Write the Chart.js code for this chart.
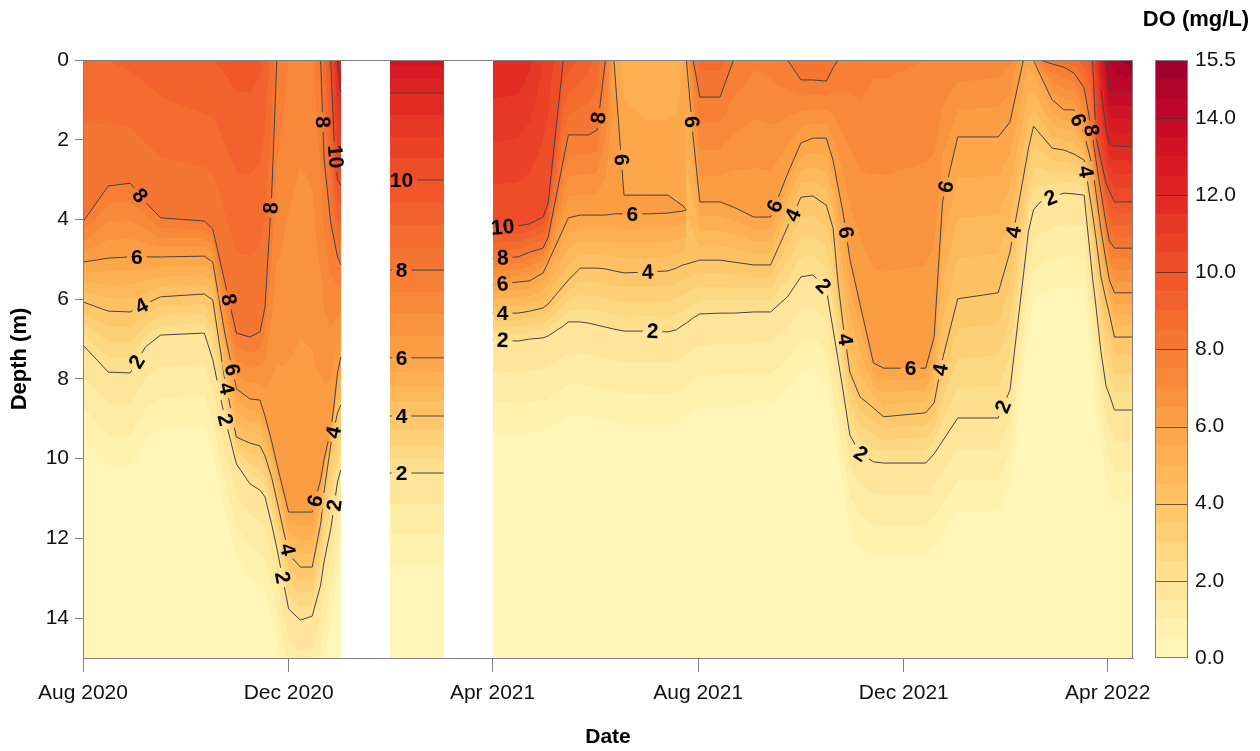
<!DOCTYPE html>
<html>
<head>
    <title>Dissolved oxygen profile</title>
    <script src="https://cdn.jsdelivr.net/npm/chart.js"></script>
    <style>
        body { margin: 0; background: #fff; }
        #wrap { position: relative; width: 1260px; height: 751px; }
        #colorbar { position: absolute; left: 1140px; top: 0; }
    </style>
</head>
<body>
    <div id="wrap">
        <canvas id="contour" width="1260" height="751"></canvas>
        <canvas id="colorbar" width="120" height="751"></canvas>
    </div>

    <script>
        const NA = null;

        // Profile dates. Rows: Aug 2020 - Jan 2021 | no data | Feb 2021 profile | no data | Apr 2021 - Apr 2022
        const sampleDates = [
            '2020-08-01','2020-08-16','2020-08-29','2020-09-07','2020-09-16','2020-10-12','2020-10-17','2020-10-24','2020-10-31','2020-11-08',
            '2020-11-14','2020-11-17','2020-11-21','2020-11-24','2020-12-01','2020-12-08','2020-12-15','2020-12-20','2020-12-22','2020-12-26',
            '2020-12-28','2020-12-30','2021-01-01',
            '2021-01-15', '2021-01-30','2021-03-03', '2021-03-17',
            '2021-04-01','2021-04-16','2021-04-23','2021-05-01','2021-05-04','2021-05-13','2021-05-16','2021-05-23','2021-05-28','2021-06-02',
            '2021-06-07','2021-06-12','2021-06-18','2021-07-02','2021-07-14','2021-07-19','2021-07-23','2021-07-25','2021-07-29','2021-08-02',
            '2021-08-14','2021-08-22','2021-09-03','2021-09-13','2021-09-23','2021-10-01','2021-10-08','2021-10-16','2021-10-20','2021-10-23',
            '2021-10-26','2021-10-30','2021-11-05','2021-11-13','2021-11-19','2021-12-14','2021-12-19','2021-12-24','2022-01-02','2022-01-26',
            '2022-02-02','2022-02-10','2022-02-13','2022-02-16','2022-02-20','2022-02-27','2022-03-06','2022-03-12','2022-03-18','2022-03-23',
            '2022-03-25','2022-03-28','2022-03-31','2022-04-02','2022-04-05','2022-04-16'
        ];

        // DO at the surface (mg/L)
        const surfaceDO = [
            8.8, 9.0, 9.1, 9.2, 9.3, 9.5, 9.5, 9.6, 9.7, 9.7, 9.6, 9.4, 8.8, 8.0, 7.5, 7.3, 7.4, 8.0, 8.8, 10.0, 11.0, 12.0, 12.3,
            NA, 13.2, 13.2, NA,
            11.95, 11.9, 11.6, 11.0, 10.8, 10.0, 9.8, 9.4, 9.2, 8.8, 8.0, 6.0, 5.3, 5.1, 5.1, 5.2, 5.5, 6.0, 8.0, 8.7,
            8.7, 8.0, 7.6, 7.7, 8.0, 8.4, 8.5, 8.4, 8.2, 8.0, 7.9, 7.8, 7.8, 7.6, 7.6, 7.5, 7.5, 7.5, 7.4, 7.3,
            7.1, 6.0, 5.6, 6.0, 8.0, 8.5, 8.7, 8.9, 9.3, 10.0, 11.0, 12.7, 14.0, 14.5, 14.8, 15.3
        ];
        const BOTTOM_DO = 0.4;

        // Depth (m) where DO crosses each isoline on each profile
        const iso2 = [
            7.15, 7.83, 7.85, 7.20, 6.90, 6.85, 7.52, 8.95, 10.13, 10.63, 10.79, 10.96, 11.66, 12.24, 13.77, 14.05, 13.95, 13.17, 12.59, 11.76, 11.19, 10.58, 10.28,
            NA, 10.36, 10.36, NA,
            7.02, 7.05, 7.00, 6.97, 6.92, 6.67, 6.57, 6.57, 6.60, 6.65, 6.70, 6.75, 6.80, 6.80, 6.82, 6.77, 6.65, 6.60, 6.47, 6.37,
            6.35, 6.35, 6.32, 6.32, 5.94, 5.44, 5.39, 5.74, 6.75, 7.52, 8.30, 9.41, 9.86, 10.08, 10.11, 10.11, 9.88, 9.56, 8.98, 8.98,
            8.28, 5.39, 4.29, 3.76, 3.56, 3.44, 3.34, 3.36, 3.39, 5.47, 6.17, 7.32, 8.18, 8.40, 8.78, 8.78
        ];
        const iso4 = [
            6.07, 6.30, 6.32, 6.12, 5.94, 5.87, 6.02, 7.98, 9.46, 9.61, 9.68, 9.93, 10.48, 11.04, 12.39, 12.72, 12.72, 11.64, 10.84, 9.66, 9.26, 8.85, 8.65,
            NA, 8.93, 8.93, NA,
            6.35, 6.35, 6.30, 6.22, 6.12, 5.67, 5.52, 5.22, 5.22, 5.22, 5.24, 5.29, 5.34, 5.32, 5.29, 5.22, 5.14, 5.12, 5.07, 5.02,
            5.02, 5.07, 5.14, 5.14, 4.19, 3.44, 3.41, 3.64, 4.21, 5.59, 6.65, 7.83, 8.45, 8.73, 8.95, 8.85, 8.60, 7.50, 5.99, 5.84,
            4.82, 2.93, 2.21, 1.66, 1.86, 2.21, 2.26, 2.36, 2.51, 3.86, 4.46, 5.44, 6.02, 6.37, 6.95, 6.95
        ];
        const iso6 = [
            5.07, 4.97, 4.94, 4.94, 4.94, 4.92, 5.07, 6.82, 8.25, 8.50, 8.53, 8.93, 9.58, 10.13, 11.34, 11.34, 11.34, 10.53, 10.03, 9.28, 8.65, 7.85, 7.45,
            NA, 7.47, 7.47, NA,
            5.64, 5.57, 5.54, 5.34, 5.07, 4.24, 3.96, 3.89, 3.89, 3.89, 3.89, 3.86, 3.86, 3.86, 3.84, 3.81, 3.79, 3.76, NA, NA,
            NA, NA, NA, NA, NA, NA, NA, NA, NA, NA, NA, NA, NA, NA, NA, NA, NA, NA, NA, NA,
            NA, NA, NA, NA, NA, NA, NA, NA, NA, NA, NA, NA, NA, NA, NA, NA
        ];
        // upper edge of the thin > 6 mg/L tongue in June-July 2021
        const iso6Tongue = [
            NA, NA, NA, NA, NA, NA, NA, NA, NA, NA, NA, NA, NA, NA, NA, NA, NA, NA, NA, NA, NA, NA, NA,
            NA, NA, NA, NA,
            NA, NA, NA, NA, NA, NA, NA, NA, NA, NA, NA, 0, 3.39, 3.39, 3.39, 3.54, 3.66, 3.76, NA, NA,
            NA, NA, NA, NA, NA, NA, NA, NA, NA, NA, NA, NA, NA, NA, NA, NA, NA, NA, NA, NA,
            NA, NA, NA, NA, NA, NA, NA, NA, NA, NA, NA, NA, NA, NA, NA, NA
        ];
        const iso6Right = [
            NA, NA, NA, NA, NA, NA, NA, NA, NA, NA, NA, NA, NA, NA, NA, NA, NA, NA, NA, NA, NA, NA, NA,
            NA, NA, NA, NA,
            NA, NA, NA, NA, NA, NA, NA, NA, NA, NA, NA, NA, NA, NA, NA, NA, NA, 0, 1.93, 3.56,
            3.56, 3.69, 3.94, 3.94, 2.86, 2.08, 1.96, 1.96, 2.51, 3.19, 3.84, 4.99, 6.12, 7.60, 7.73, 7.73, 6.95, 3.56, 1.93, 1.93,
            1.56, 0, NA, 0, 0.38, 1.00, 1.25, 1.25, 1.86, 2.68, 3.31, 4.26, 5.04, 5.52, 5.84, 5.84
        ];
        const iso8 = [
            4.06, 3.16, 3.09, 3.56, 3.96, 4.04, 4.24, 5.54, 6.85, 6.95, 6.82, 6.20, 3.34, 0, NA, NA, NA, 0, 2.46, 4.09, 4.51, 4.94, 5.14,
            NA, 5.27, 5.27, NA,
            4.97, 4.94, 4.82, 4.72, 4.44, 2.51, 1.88, 1.88, 1.88, 1.76, 0, NA, NA, NA, NA, NA, NA, NA, 0, 0.93,
            0.93, 0, NA, NA, 0, 0.50, 0.50, 0.53, 0.20, 0, NA, NA, NA, NA, NA, NA, NA, NA, NA, NA,
            NA, NA, NA, NA, 0, 0.10, 0.18, 0.33, 0.70, 1.91, 2.51, 3.31, 4.11, 4.54, 4.72, 4.72
        ];
        const iso10 = [
            NA, NA, NA, NA, NA, NA, NA, NA, NA, NA, NA, NA, NA, NA, NA, NA, NA, NA, NA, 0, 2.01, 3.01, 3.14,
            NA, 3.01, 3.01, NA,
            4.21, 4.16, 4.11, 3.94, 3.59, 0, NA, NA, NA, NA, NA, NA, NA, NA, NA, NA, NA, NA, NA, NA,
            NA, NA, NA, NA, NA, NA, NA, NA, NA, NA, NA, NA, NA, NA, NA, NA, NA, NA, NA, NA,
            NA, NA, NA, NA, NA, NA, NA, NA, NA, 0, 1.93, 2.51, 3.09, 3.29, 3.56, 3.56
        ];
        const iso12 = [
            NA, NA, NA, NA, NA, NA, NA, NA, NA, NA, NA, NA, NA, NA, NA, NA, NA, NA, NA, NA, NA, 0, 0.80,
            NA, 0.83, 0.83, NA,
            NA, NA, NA, NA, NA, NA, NA, NA, NA, NA, NA, NA, NA, NA, NA, NA, NA, NA, NA, NA,
            NA, NA, NA, NA, NA, NA, NA, NA, NA, NA, NA, NA, NA, NA, NA, NA, NA, NA, NA, NA,
            NA, NA, NA, NA, NA, NA, NA, NA, NA, NA, NA, 0.75, 1.71, 2.13, 2.16, 2.18
        ];
        const iso14 = [
            NA, NA, NA, NA, NA, NA, NA, NA, NA, NA, NA, NA, NA, NA, NA, NA, NA, NA, NA, NA, NA, NA, NA,
            NA, NA, NA, NA,
            NA, NA, NA, NA, NA, NA, NA, NA, NA, NA, NA, NA, NA, NA, NA, NA, NA, NA, NA, NA,
            NA, NA, NA, NA, NA, NA, NA, NA, NA, NA, NA, NA, NA, NA, NA, NA, NA, NA, NA, NA,
            NA, NA, NA, NA, NA, NA, NA, NA, NA, NA, NA, NA, 0, 0.80, 0.80, 0.80
        ];

        // Inline contour labels: isoline, date, depth
        const contourLabels = [
            ['iso8', '2020-09-02', 3.46], ['iso6', '2020-09-02', 4.97], ['iso4', '2020-09-05', 6.2], ['iso2', '2020-09-02', 7.57],
            ['iso8', '2020-10-26', 6.02], ['iso6', '2020-10-28', 7.78], ['iso4', '2020-10-27', 8.23], ['iso2', '2020-10-24', 9.03],
            ['iso8', '2020-11-20', 3.71], ['iso8', '2020-12-20', 1.56], ['iso10', '2020-12-27', 2.43], ['iso4', '2020-12-30', 9.36],
            ['iso6', '2020-12-15', 11.04], ['iso2', '2020-12-27', 11.16], ['iso4', '2020-11-29', 12.29], ['iso2', '2020-11-26', 12.99],
            ['iso10', '2021-02-06', 3.01], ['iso8', '2021-02-06', 5.27], ['iso6', '2021-02-06', 7.47], ['iso4', '2021-02-06', 8.93], ['iso2', '2021-02-06', 10.36],
            ['iso10', '2021-04-07', 4.21], ['iso8', '2021-04-07', 4.97], ['iso6', '2021-04-07', 5.64], ['iso4', '2021-04-07', 6.35], ['iso2', '2021-04-07', 7.07],
            ['iso8', '2021-06-03', 1.45], ['iso6Tongue', '2021-06-14', 2.51], ['iso6', '2021-06-23', 3.89], ['iso4', '2021-07-02', 5.32], ['iso2', '2021-07-05', 6.80],
            ['iso6Right', '2021-07-26', 1.56], ['iso6Right', '2021-09-17', 3.69], ['iso4', '2021-09-26', 3.89], ['iso2', '2021-10-13', 5.72],
            ['iso6Right', '2021-10-26', 4.34], ['iso4', '2021-10-26', 7.02], ['iso2', '2021-11-05', 9.91], ['iso6Right', '2021-12-05', 7.73],
            ['iso4', '2021-12-24', 7.78], ['iso6Right', '2021-12-27', 3.19], ['iso2', '2022-01-29', 8.70], ['iso4', '2022-02-03', 4.31],
            ['iso2', '2022-02-26', 3.44], ['iso6Right', '2022-03-15', 1.50], ['iso8', '2022-03-23', 1.76], ['iso4', '2022-03-18', 2.81]
        ];

        const tickDates = ['2020-08-01', '2020-12-01', '2021-04-01', '2021-08-01', '2021-12-01', '2022-04-01'];
        const tickLabels = ['Aug 2020', 'Dec 2020', 'Apr 2021', 'Aug 2021', 'Dec 2021', 'Apr 2022'];
        const depthTicks = [0, 2, 4, 6, 8, 10, 12, 14];
        const colorbarTicks = [0, 2, 4, 6, 8, 10, 12, 14, 15.5];
        const colorbarLines = [2, 4, 6, 8, 10, 12, 14];

        const DEPTH_MAX = 15;
        const DO_MAX = 15.5;
        const DO_STEP = 0.5;
        const DECAY_DEPTH = 2.5;   // shading falls to the bottom value below the deepest isoline

        const ORIGIN = Date.UTC(2020, 7, 1);
        function dayOf(s) {
            const [y, m, d] = s.split('-').map(Number);
            return (Date.UTC(y, m - 1, d) - ORIGIN) / 86400000;
        }
        const sampleDays = sampleDates.map(dayOf);
        const tickDays = tickDates.map(dayOf);
        const X_MAX = dayOf('2022-04-16');

        const isolines = [
            { name: 'iso2', level: 2, depths: iso2 },
            { name: 'iso4', level: 4, depths: iso4 },
            { name: 'iso6', level: 6, depths: iso6 },
            { name: 'iso6Tongue', level: 6, depths: iso6Tongue },
            { name: 'iso6Right', level: 6, depths: iso6Right },
            { name: 'iso8', level: 8, depths: iso8 },
            { name: 'iso10', level: 10, depths: iso10 },
            { name: 'iso12', level: 12, depths: iso12 },
            { name: 'iso14', level: 14, depths: iso14 }
        ];
        const isoByName = {};
        isolines.forEach(iso => { isoByName[iso.name] = iso; });

        // Yellow-orange-red scale
        const paletteStops = [
            [0, '#fff7ba'], [1, '#ffefaa'], [2, '#fee293'], [3, '#fdd47e'], [4, '#fdc466'], [5, '#fcb454'],
            [6, '#faa246'], [7, '#f88e3b'], [8, '#f67b34'], [9, '#f3672f'], [10, '#f0522a'], [11, '#e93c26'],
            [12, '#e02622'], [13, '#d41624'], [14, '#c30829'], [15, '#a8012d'], [15.5, '#98002c']
        ];
        function hexRgb(h) {
            return [parseInt(h.slice(1, 3), 16), parseInt(h.slice(3, 5), 16), parseInt(h.slice(5, 7), 16)];
        }
        function colorAt(v) {
            for (let i = 0; i < paletteStops.length - 1; i++) {
                const [v0, c0] = paletteStops[i], [v1, c1] = paletteStops[i + 1];
                if (v <= v1) {
                    const f = (v - v0) / (v1 - v0), a = hexRgb(c0), b = hexRgb(c1);
                    return a.map((x, k) => Math.round(x + (b[k] - x) * f));
                }
            }
            return hexRgb(paletteStops[paletteStops.length - 1][1]);
        }
        const bandRgb = [];
        for (let lo = 0; lo < DO_MAX; lo += DO_STEP) bandRgb.push(colorAt(lo + DO_STEP / 2));
        const rgbCss = c => `rgb(${c[0]},${c[1]},${c[2]})`;

        // DO profile at a given day: knots [depth, value] built from the isoline crossings
        function profileAt(day) {
            for (let i = 0; i < sampleDays.length - 1; i++) {
                const t0 = sampleDays[i], t1 = sampleDays[i + 1];
                if (day < t0 || day > t1) continue;
                if (surfaceDO[i] == null || surfaceDO[i + 1] == null) return null;
                const f = (day - t0) / (t1 - t0);
                const lerp = (a, b) => a + (b - a) * f;
                const knots = [];
                isolines.forEach(iso => {
                    const a = iso.depths[i], b = iso.depths[i + 1];
                    if (a != null && b != null) knots.push([lerp(a, b), iso.level]);
                });
                knots.sort((p, q) => p[0] - q[0]);
                knots.unshift([0, lerp(surfaceDO[i], surfaceDO[i + 1])]);
                const [dl, vl] = knots[knots.length - 1];
                if (dl + DECAY_DEPTH >= DEPTH_MAX) {
                    knots.push([DEPTH_MAX, vl + (BOTTOM_DO - vl) * (DEPTH_MAX - dl) / DECAY_DEPTH]);
                } else {
                    knots.push([dl + DECAY_DEPTH, BOTTOM_DO], [DEPTH_MAX, BOTTOM_DO]);
                }
                return knots;
            }
            return null;
        }

        function renderField(chart) {
            const a = chart.chartArea, xs = chart.scales.x, ys = chart.scales.y;
            const w = Math.round(a.right - a.left), h = Math.round(a.bottom - a.top);
            const canvas = document.createElement('canvas');
            canvas.width = w;
            canvas.height = h;
            const g = canvas.getContext('2d');
            const img = g.createImageData(w, h);
            const rowDepth = [];
            for (let j = 0; j < h; j++) rowDepth.push(ys.getValueForPixel(a.top + j + 0.5));
            for (let i = 0; i < w; i++) {
                const knots = profileAt(xs.getValueForPixel(a.left + i + 0.5));
                if (!knots) continue;
                let k = 0;
                for (let j = 0; j < h; j++) {
                    const d = rowDepth[j];
                    while (k < knots.length - 2 && d > knots[k + 1][0]) k++;
                    const [d0, v0] = knots[k], [d1, v1] = knots[k + 1];
                    const v = d1 > d0 ? v0 + (v1 - v0) * Math.min(1, Math.max(0, (d - d0) / (d1 - d0))) : v1;
                    const c = bandRgb[Math.max(0, Math.min(bandRgb.length - 1, Math.floor(v / DO_STEP)))];
                    const p = (j * w + i) * 4;
                    img.data[p] = c[0];
                    img.data[p + 1] = c[1];
                    img.data[p + 2] = c[2];
                    img.data[p + 3] = 255;
                }
            }
            g.putImageData(img, 0, 0);
            return canvas;
        }

        // nearest point on an isoline, with the direction of that segment
        function snapToLine(chart, iso, px, py) {
            const xs = chart.scales.x, ys = chart.scales.y;
            let best = null;
            for (let i = 0; i < sampleDays.length - 1; i++) {
                const d0 = iso.depths[i], d1 = iso.depths[i + 1];
                if (d0 == null || d1 == null) continue;
                const x0 = xs.getPixelForValue(sampleDays[i]), y0 = ys.getPixelForValue(d0);
                const x1 = xs.getPixelForValue(sampleDays[i + 1]), y1 = ys.getPixelForValue(d1);
                const dx = x1 - x0, dy = y1 - y0, len2 = dx * dx + dy * dy;
                let t = len2 ? ((px - x0) * dx + (py - y0) * dy) / len2 : 0;
                t = Math.max(0, Math.min(1, t));
                const qx = x0 + t * dx, qy = y0 + t * dy;
                const dist = (qx - px) ** 2 + (qy - py) ** 2;
                if (!best || dist < best.dist) best = { x: qx, y: qy, dist, angle: Math.atan2(dy, dx) };
            }
            if (best.angle > Math.PI / 2) best.angle -= Math.PI;
            if (best.angle <= -Math.PI / 2) best.angle += Math.PI;
            return best;
        }

        const LABEL_FONT = 'bold 21px "Liberation Sans", Arial, sans-serif';

        const fieldPlugin = {
            id: 'doField',
            beforeDatasetsDraw(chart) {
                if (!chart.$field) chart.$field = renderField(chart);
                chart.ctx.drawImage(chart.$field, chart.chartArea.left, chart.chartArea.top);
            },
            afterDatasetsDraw(chart) {
                const ctx = chart.ctx, a = chart.chartArea;
                const xs = chart.scales.x, ys = chart.scales.y;
                ctx.save();
                ctx.font = LABEL_FONT;
                const placed = contourLabels.map(([name, date, depth]) => {
                    const iso = isoByName[name];
                    const p = snapToLine(chart, iso, xs.getPixelForValue(dayOf(date)), ys.getPixelForValue(depth));
                    const text = String(iso.level);
                    return { x: p.x, y: p.y, angle: p.angle, text, w: ctx.measureText(text).width };
                });
                // open a gap in the isoline under each label
                placed.forEach(p => {
                    ctx.save();
                    ctx.translate(p.x, p.y);
                    ctx.rotate(p.angle);
                    ctx.beginPath();
                    ctx.rect(-p.w / 2 - 4, -9, p.w + 8, 18);
                    ctx.rotate(-p.angle);
                    ctx.translate(-p.x, -p.y);
                    ctx.clip();
                    ctx.drawImage(chart.$field, a.left, a.top);
                    ctx.restore();
                });
                ctx.fillStyle = '#000';
                ctx.textAlign = 'center';
                ctx.textBaseline = 'middle';
                placed.forEach(p => {
                    ctx.save();
                    ctx.translate(p.x, p.y);
                    ctx.rotate(p.angle);
                    ctx.fillText(p.text, 0, 1);
                    ctx.restore();
                });
                ctx.restore();
            },
            afterDraw(chart) {
                const ctx = chart.ctx, a = chart.chartArea;
                ctx.save();
                ctx.strokeStyle = '#808080';
                ctx.lineWidth = 1;
                ctx.strokeRect(Math.round(a.left) + 0.5, Math.round(a.top) + 0.5,
                    Math.round(a.right - a.left) - 1, Math.round(a.bottom - a.top));
                ctx.restore();
            }
        };

        Chart.defaults.font.family = '"Liberation Sans", Arial, sans-serif';
        Chart.defaults.font.size = 21;
        Chart.defaults.color = '#111';

        new Chart(document.getElementById('contour'), {
            type: 'line',
            data: {
                datasets: isolines.map(iso => ({
                    label: iso.name,
                    data: sampleDays.map((d, i) => ({ x: d, y: iso.depths[i] })),
                    borderColor: '#444',
                    borderWidth: 1,
                    pointRadius: 0,
                    fill: false,
                    tension: 0,
                    spanGaps: false
                }))
            },
            options: {
                responsive: false,
                animation: false,
                events: [],
                layout: { padding: { top: 60, right: 127, left: 0, bottom: 0 } },
                plugins: { legend: { display: false }, tooltip: { enabled: false } },
                scales: {
                    x: {
                        type: 'linear',
                        min: 0,
                        max: X_MAX,
                        afterBuildTicks: s => { s.ticks = tickDays.map(v => ({ value: v })); },
                        afterFit: s => { s.height = 93; },
                        grid: { drawOnChartArea: false, tickLength: 14, color: '#808080' },
                        border: { color: '#808080' },
                        ticks: { padding: 9, maxRotation: 0, autoSkip: false, callback: (v, i) => tickLabels[i] },
                        title: { display: true, text: 'Date', color: '#000', font: { size: 21, weight: 'bold' }, padding: { top: 0, bottom: 1 } }
                    },
                    y: {
                        type: 'linear',
                        reverse: true,
                        min: 0,
                        max: DEPTH_MAX,
                        afterBuildTicks: s => { s.ticks = depthTicks.map(v => ({ value: v })); },
                        afterFit: s => { s.width = 83; },
                        grid: { drawOnChartArea: false, tickLength: 8, color: '#808080' },
                        border: { color: '#808080' },
                        ticks: { padding: 6 },
                        title: { display: true, text: 'Depth (m)', color: '#000', font: { size: 22, weight: 'bold' }, padding: { top: 7, bottom: 0 } }
                    }
                }
            },
            plugins: [fieldPlugin]
        });

        // Colour bar: one floating bar per 0.5 mg/L class
        const colorbarFrame = {
            id: 'colorbarFrame',
            afterDatasetsDraw(chart) {
                const ctx = chart.ctx, a = chart.chartArea, ys = chart.scales.y;
                ctx.save();
                ctx.strokeStyle = 'rgba(70,45,35,0.75)';
                ctx.lineWidth = 1;
                colorbarLines.forEach(v => {
                    const y = Math.round(ys.getPixelForValue(v)) + 0.5;
                    ctx.beginPath();
                    ctx.moveTo(a.left, y);
                    ctx.lineTo(a.right, y);
                    ctx.stroke();
                });
                ctx.strokeStyle = '#808080';
                ctx.strokeRect(Math.round(a.left) + 0.5, Math.round(a.top) + 0.5,
                    Math.round(a.right - a.left) - 1, Math.round(a.bottom - a.top) - 1);
                // legend heading, centred over the bar and its labels
                ctx.fillStyle = '#000';
                ctx.font = 'bold 22px "Liberation Sans", Arial, sans-serif';
                ctx.textAlign = 'center';
                ctx.textBaseline = 'middle';
                ctx.fillText('DO (mg/L)', 56, 20);
                ctx.restore();
            }
        };

        const classLows = bandRgb.map((c, k) => k * DO_STEP);
        new Chart(document.getElementById('colorbar'), {
            type: 'bar',
            data: {
                labels: ['DO'],
                datasets: classLows.map((lo, k) => ({
                    data: [[lo, lo + DO_STEP]],
                    backgroundColor: rgbCss(bandRgb[k]),
                    borderWidth: 0,
                    barPercentage: 1,
                    categoryPercentage: 1,
                    grouped: false
                }))
            },
            options: {
                responsive: false,
                animation: false,
                events: [],
                layout: { padding: { left: 15, right: 0, top: 60, bottom: 93 } },
                plugins: {
                    legend: { display: false },
                    tooltip: { enabled: false },
                    title: { display: false }
                },
                scales: {
                    x: { display: false },
                    y: {
                        position: 'right',
                        min: 0,
                        max: DO_MAX,
                        afterBuildTicks: s => { s.ticks = colorbarTicks.map(v => ({ value: v })); },
                        afterFit: s => { s.width = 72; },
                        grid: { display: false, drawTicks: false },
                        border: { display: false },
                        ticks: { padding: 7, callback: v => Number(v).toFixed(1) }
                    }
                }
            },
            plugins: [colorbarFrame]
        });
    </script>
</body>
</html>
